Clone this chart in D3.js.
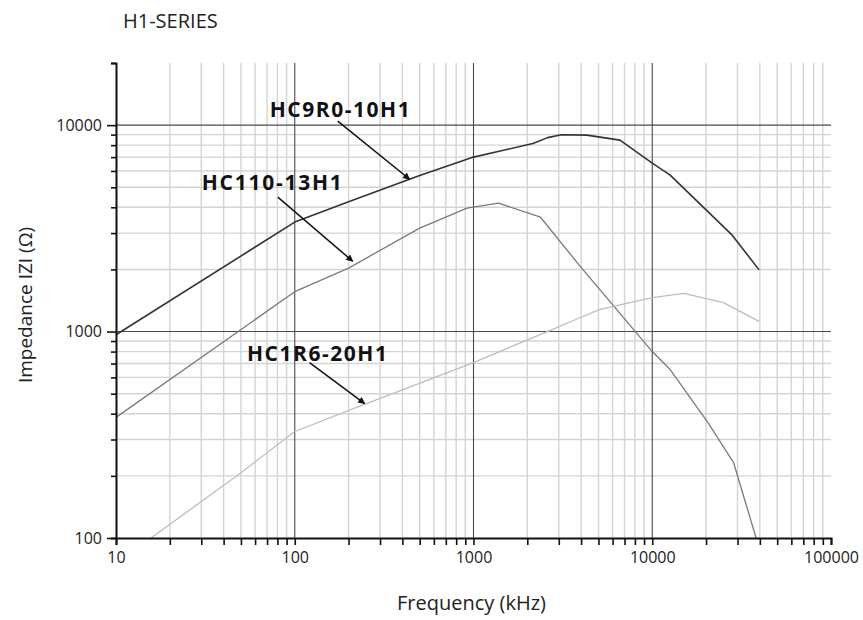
<!DOCTYPE html>
<html>
<head>
<meta charset="utf-8">
<script src="https://cdn.jsdelivr.net/npm/d3@7"></script>
<style>
  body { margin: 0; background: #fff; }
  svg { display: block; font-family: 'Open Sans', sans-serif; }
</style>
</head>
<body>
<div id="container_impedance"></div>
<script>
// impedance curves (kHz, ohm)
const freq9R0 = [10, 100, 200, 500, 1000, 2150, 2600, 3100, 4300, 6600, 10000, 12600, 28000, 39600];
const z9R0 = [965, 3390, 4250, 5700, 7000, 8150, 8700, 8980, 8950, 8460, 6550, 5730, 2930, 1990];

const freq110 = [10, 100, 200, 500, 920, 1380, 2370, 3900, 10000, 12600, 20500, 28500, 38100];
const z110 = [384, 1560, 2030, 3170, 3960, 4190, 3580, 2100, 800, 655, 362, 232, 100];

const freq1R6 = [15.7, 50, 100, 243, 1000, 2590, 3960, 5100, 10000, 15000, 25000, 39600];
const z1R6 = [100, 207, 328, 443, 708, 1000, 1170, 1280, 1460, 1530, 1380, 1120];

const seriesNames = ['HC9R0-10H1', 'HC110-13H1', 'HC1R6-20H1'];
const xTickLabels = [10, 100, 1000, 10000, 100000];
const yTickLabels = [100, 1000, 10000];

const width = 863;
const height = 620;
const margin = {top: 63, right: 32, bottom: 82, left: 116};

const svg = d3.select('#container_impedance')
  .append('svg')
  .attr('id', 'svg_impedance')
  .attr('width', width)
  .attr('height', height);

const xScale = d3.scaleLog()
  .domain([10, 100000])
  .range([margin.left, width - margin.right]);

const yScale = d3.scaleLog()
  .domain([100, 20000])
  .range([height - margin.bottom, margin.top]);

// every 1..9 step of each decade
const xMinor = xScale.ticks().filter(d => !xTickLabels.includes(d));
const yMinor = yScale.ticks().filter(d => !yTickLabels.includes(d));

//minor grid
const grid = svg.append('g').attr('class', 'grid');

grid.selectAll('.vminor')
  .data(xMinor.filter(d => d < 100000))
  .enter()
  .append('line')
  .attr('x1', d => xScale(d)).attr('x2', d => xScale(d))
  .attr('y1', margin.top).attr('y2', height - margin.bottom)
  .style('stroke', '#d4d4d4')
  .style('stroke-width', 1.4);

grid.selectAll('.hminor')
  .data(yMinor.filter(d => d < 20000))
  .enter()
  .append('line')
  .attr('x1', margin.left).attr('x2', width - margin.right)
  .attr('y1', d => yScale(d)).attr('y2', d => yScale(d))
  .style('stroke', '#d4d4d4')
  .style('stroke-width', 1.4);

//major grid
grid.selectAll('.vmajor')
  .data([100, 1000, 10000])
  .enter()
  .append('line')
  .attr('x1', d => xScale(d)).attr('x2', d => xScale(d))
  .attr('y1', margin.top).attr('y2', height - margin.bottom)
  .style('stroke', '#4a4a4a')
  .style('stroke-width', 1.1);

grid.selectAll('.hmajor')
  .data([1000, 10000])
  .enter()
  .append('line')
  .attr('x1', margin.left).attr('x2', width - margin.right)
  .attr('y1', d => yScale(d)).attr('y2', d => yScale(d))
  .style('stroke', '#4a4a4a')
  .style('stroke-width', 1.1);

//curves
const line = d3.line()
  .x(d => xScale(d[0]))
  .y(d => yScale(d[1]));

const curves = [
  {f: freq9R0, z: z9R0, color: '#333', w: 1.6},
  {f: freq110, z: z110, color: '#7a7a7a', w: 1.3},
  {f: freq1R6, z: z1R6, color: '#bdbdbd', w: 1.3}
];

svg.selectAll('.curve')
  .data(curves)
  .enter()
  .append('path')
  .attr('class', 'curve')
  .attr('d', d => line(d.f.map((f, i) => [f, d.z[i]])))
  .style('fill', 'none')
  .style('stroke', d => d.color)
  .style('stroke-width', d => d.w)
  .style('stroke-linejoin', 'round');

//axes
const xAxis = svg.append('g')
  .attr('transform', `translate(0, ${height - margin.bottom})`)
  .call(d3.axisBottom(xScale)
    .tickValues(xScale.ticks())
    .tickSize(7)
    .tickFormat(d => xTickLabels.includes(d) ? d : ''));

const yAxis = svg.append('g')
  .attr('transform', `translate(${margin.left}, 0)`)
  .call(d3.axisLeft(yScale)
    .tickValues(yScale.ticks().filter(d => d <= 20000))
    .tickSize(5)
    .tickFormat(d => yTickLabels.includes(d) ? d : ''));

[xAxis, yAxis].forEach(axis => {
  axis.select('.domain')
    .style('stroke', '#111')
    .style('stroke-width', 2);
  axis.selectAll('.tick line')
    .style('stroke', '#111')
    .style('stroke-width', 1.6);
  axis.selectAll('.tick text')
    .style('font-family', "'Open Sans', sans-serif")
    .style('font-size', '16px')
    .style('fill', '#222');
});

yAxis.selectAll('.tick')
  .filter(d => yTickLabels.includes(d))
  .select('line')
  .attr('x2', -9);

yAxis.selectAll('.tick text').attr('x', -14);
xAxis.selectAll('.tick text').attr('y', 14);

//titles
svg.append('text')
  .attr('x', 123)
  .attr('y', 28)
  .style('font-size', '20px')
  .style('fill', '#222')
  .text('H1-SERIES');

svg.append('text')
  .attr('x', (margin.left + width - margin.right) / 2 - 2)
  .attr('y', 610)
  .attr('text-anchor', 'middle')
  .style('font-size', '20px')
  .style('fill', '#222')
  .text('Frequency (kHz)');

svg.append('text')
  .attr('transform', 'translate(32, 305) rotate(-90)')
  .attr('text-anchor', 'middle')
  .style('font-size', '19px')
  .style('fill', '#222')
  .text('Impedance IZI (Ω)');

//callouts: text anchor, arrow start, arrow tip in data units
const callouts = [
  {name: seriesNames[0], text: [72.4, 10940], from: [174, 10450], to: [439, 5470]},
  {name: seriesNames[1], text: [30.2, 4840], from: [80.4, 4480], to: [211, 2190]},
  {name: seriesNames[2], text: [54, 724], from: [121, 708], to: [246, 448]}
];

svg.append('defs')
  .append('marker')
  .attr('id', 'arrowhead')
  .attr('viewBox', '0 0 10 10')
  .attr('refX', 9).attr('refY', 5)
  .attr('markerWidth', 9).attr('markerHeight', 7)
  .attr('markerUnits', 'userSpaceOnUse')
  .attr('orient', 'auto')
  .append('path')
  .attr('d', 'M0,0 L10,5 L0,10 Z')
  .style('fill', '#111');

svg.selectAll('.callout_line')
  .data(callouts)
  .enter()
  .append('line')
  .attr('class', 'callout_line')
  .attr('x1', d => xScale(d.from[0])).attr('y1', d => yScale(d.from[1]))
  .attr('x2', d => xScale(d.to[0])).attr('y2', d => yScale(d.to[1]))
  .style('stroke', '#111')
  .style('stroke-width', 1.5)
  .attr('marker-end', 'url(#arrowhead)');

svg.selectAll('.callout_text')
  .data(callouts)
  .enter()
  .append('text')
  .attr('class', 'callout_text')
  .attr('x', d => xScale(d.text[0]))
  .attr('y', d => yScale(d.text[1]))
  .attr('textLength', 140)
  .attr('lengthAdjust', 'spacing')
  .style('font-size', '21px')
  .style('font-weight', 'bold')
  .style('fill', '#111')
  .text(d => d.name);
</script>
</body>
</html>
